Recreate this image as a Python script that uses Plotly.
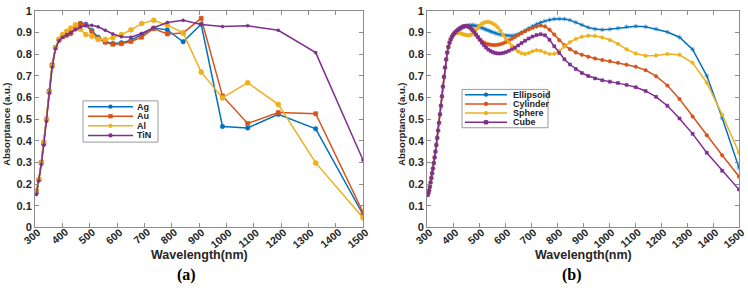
import math
import plotly.graph_objects as go

# ---------------- data ----------------
x_ticks = [300, 400, 500, 600, 700, 800, 900, 1000, 1100, 1200, 1300, 1400, 1500]
x_tick_labels = ["300", "400", "500", "600", "700", "800", "900", "1000", "1100", "1200", "1300", "1400", "1500"]
y_ticks = [0, 0.1, 0.2, 0.3, 0.4, 0.5, 0.6, 0.7, 0.8, 0.9, 1.0]
y_tick_labels = ["0", "0.1", "0.2", "0.3", "0.4", "0.5", "0.6", "0.7", "0.8", "0.9", "1"]

# panel (a): materials
names_a = ["Ag", "Au", "Al", "TiN"]
wl_a = [305, 314, 323, 332, 342, 352, 363, 375, 388, 401, 416, 431, 448, 466, 486, 508, 531, 557,
        585, 616, 651, 690, 734, 784, 842, 908, 986, 1078, 1190, 1327, 1500]
ag = [0.16, 0.22, 0.30, 0.385, 0.50, 0.63, 0.75, 0.83, 0.866, 0.882, 0.887, 0.895, 0.92, 0.941, 0.938,
      0.909, 0.878, 0.857, 0.849, 0.852, 0.864, 0.89, 0.92, 0.912, 0.857, 0.938, 0.466, 0.459, 0.522,
      0.455, 0.06]
au = [0.165, 0.22, 0.30, 0.39, 0.50, 0.625, 0.75, 0.83, 0.865, 0.88, 0.89, 0.90, 0.92, 0.94, 0.934,
      0.905, 0.872, 0.855, 0.845, 0.848, 0.858, 0.878, 0.918, 0.893, 0.898, 0.965, 0.607, 0.48, 0.53,
      0.525, 0.07]
al = [0.17, 0.22, 0.30, 0.395, 0.50, 0.625, 0.745, 0.83, 0.87, 0.89, 0.905, 0.92, 0.935, 0.915, 0.89,
      0.883, 0.868, 0.868, 0.876, 0.89, 0.912, 0.941, 0.956, 0.934, 0.898, 0.717, 0.598, 0.668, 0.568,
      0.298, 0.045]
tin = [0.152, 0.215, 0.29, 0.38, 0.49, 0.62, 0.74, 0.825, 0.862, 0.878, 0.89, 0.90, 0.912, 0.925, 0.932,
       0.933, 0.926, 0.91, 0.893, 0.88, 0.878, 0.895, 0.922, 0.946, 0.956, 0.937, 0.927, 0.931, 0.91,
       0.807, 0.311]

# panel (b): shapes
names_b = ["Ellipsoid", "Cylinder", "Sphere", "Cube"]
wl_b = [302.4, 305.2, 308.0, 310.9, 313.8, 316.8, 319.8, 322.9, 326.1, 329.3,
        332.6, 335.9, 339.4, 342.9, 346.4, 350.1, 353.8, 357.6, 361.4, 365.4,
        369.5, 373.6, 377.8, 382.2, 386.6, 391.1, 395.8, 400.5, 405.4, 410.4,
        415.5, 420.8, 426.1, 431.7, 437.3, 443.1, 449.1, 455.2, 461.5, 468.0,
        474.7, 481.5, 488.6, 495.9, 503.4, 511.1, 519.0, 527.2, 535.7, 544.5,
        553.5, 562.9, 572.5, 582.5, 592.9, 603.6, 614.8, 626.3, 638.3, 650.8,
        663.7, 677.2, 691.2, 705.9, 721.2, 737.1, 753.8, 771.2, 789.5, 808.6,
        828.7, 849.9, 872.1, 895.5, 920.2, 946.4, 974.0, 1003.3, 1034.5, 1067.6,
        1102.9, 1140.7, 1181.1, 1224.5, 1271.2, 1321.6, 1376.1, 1435.4, 1500.0]

ellipsoid = [0.150, 0.158, 0.170, 0.188, 0.207, 0.228, 0.250, 0.272, 0.297, 0.323,
             0.350, 0.380, 0.413, 0.447, 0.483, 0.522, 0.562, 0.605, 0.650, 0.695,
             0.738, 0.775, 0.807, 0.833, 0.853, 0.868, 0.880,
             0.889, 0.896, 0.902, 0.908, 0.913, 0.917, 0.921, 0.924, 0.927, 0.929,
             0.931, 0.932, 0.933, 0.933, 0.932, 0.930, 0.928, 0.925, 0.921, 0.917,
             0.913, 0.909, 0.905, 0.901, 0.897, 0.893, 0.890, 0.888, 0.886, 0.885,
             0.885, 0.887, 0.892, 0.900, 0.909, 0.919, 0.929, 0.938, 0.946, 0.953,
             0.958, 0.962, 0.963, 0.962, 0.957, 0.947, 0.935, 0.923, 0.916, 0.913,
             0.915, 0.920, 0.926, 0.929, 0.926, 0.916, 0.902, 0.878, 0.822, 0.700,
             0.505, 0.275]
cylinder = [0.150, 0.158, 0.170, 0.188, 0.207, 0.228, 0.250, 0.272, 0.297, 0.323,
            0.350, 0.380, 0.413, 0.447, 0.483, 0.522, 0.562, 0.605, 0.650, 0.695,
            0.738, 0.775, 0.807, 0.833, 0.853, 0.868, 0.880,
            0.889, 0.896, 0.902, 0.908, 0.913, 0.918, 0.922, 0.926, 0.929, 0.930,
            0.929, 0.925, 0.918, 0.909, 0.899, 0.888, 0.877, 0.867, 0.859, 0.853,
            0.848, 0.845, 0.843, 0.842, 0.842, 0.843, 0.846, 0.850, 0.856, 0.863,
            0.871, 0.879, 0.888, 0.897, 0.906, 0.914, 0.921, 0.928, 0.932, 0.928,
            0.913, 0.890, 0.864, 0.841, 0.823, 0.808, 0.797, 0.788, 0.780, 0.773,
            0.767, 0.760, 0.751, 0.742, 0.726, 0.698, 0.655, 0.593, 0.512, 0.425,
            0.333, 0.235]
sphere = [0.150, 0.158, 0.170, 0.188, 0.207, 0.228, 0.250, 0.272, 0.297, 0.323,
          0.350, 0.380, 0.413, 0.447, 0.483, 0.522, 0.562, 0.605, 0.650, 0.695,
          0.738, 0.775, 0.807, 0.833, 0.853, 0.868, 0.880,
          0.891, 0.895, 0.897, 0.898, 0.898, 0.897, 0.895, 0.892, 0.890, 0.888,
          0.887, 0.887, 0.889, 0.894, 0.902, 0.912, 0.922, 0.932, 0.940, 0.945,
          0.948, 0.948, 0.946, 0.941, 0.934, 0.923, 0.908, 0.889, 0.870, 0.854,
          0.839, 0.825, 0.812, 0.804, 0.801, 0.805, 0.813, 0.818, 0.815, 0.807,
          0.800, 0.802, 0.815, 0.835, 0.855, 0.870, 0.880, 0.885, 0.884, 0.877,
          0.865, 0.847, 0.822, 0.803, 0.792, 0.794, 0.800, 0.797, 0.760, 0.668,
          0.520, 0.345]
cube = [0.150, 0.158, 0.170, 0.188, 0.207, 0.228, 0.250, 0.272, 0.297, 0.323,
        0.350, 0.380, 0.413, 0.447, 0.483, 0.522, 0.562, 0.605, 0.650, 0.695,
        0.738, 0.775, 0.807, 0.833, 0.853, 0.868, 0.880,
        0.889, 0.896, 0.903, 0.909, 0.914, 0.919, 0.923, 0.927, 0.929, 0.930,
        0.929, 0.926, 0.920, 0.912, 0.902, 0.891, 0.879, 0.866, 0.853, 0.841,
        0.830, 0.821, 0.814, 0.809, 0.805, 0.803, 0.803, 0.805, 0.809, 0.815,
        0.822, 0.830, 0.840, 0.851, 0.862, 0.872, 0.881, 0.888, 0.892, 0.887,
        0.866, 0.836, 0.805, 0.776, 0.752, 0.731, 0.713, 0.699, 0.688, 0.679,
        0.673, 0.667, 0.658, 0.647, 0.630, 0.603, 0.562, 0.503, 0.432, 0.345,
        0.262, 0.175]

# ---------------- styles ----------------
BLUE, ORANGE, YELLOW, PURPLE = "#0072BD", "#D95319", "#EDB120", "#7E2F8E"
COLORS = [BLUE, ORANGE, YELLOW, PURPLE]
W, H = 748, 290
TXT = "#262626"
AXC = "#8c8c8c"
PLOT_TOP, PLOT_BOTTOM = 5, 231

fig = go.Figure()

def add(x, y, name, color, symbol, size, xa, ya):
    fig.add_trace(go.Scatter(
        x=x, y=y, name=name, mode="lines+markers", showlegend=False,
        line=dict(color=color, width=1.5),
        marker=dict(color=color, symbol=symbol, size=size, line=dict(width=0.6, color=color)),
        xaxis=xa, yaxis=ya))

for ys, nm, c, sym, sz in zip([ag, au, al, tin], names_a, COLORS,
                              ["circle", "square", "circle", "circle"], [4.5, 4, 5, 3]):
    add(wl_a, ys, nm, c, sym, sz, "x", "y")
for ys, nm, c, sym, sz in zip([ellipsoid, cylinder, sphere, cube], names_b, COLORS,
                              ["asterisk-open", "circle", "circle", "square"], [4, 3.5, 3.5, 3]):
    add(wl_b, ys, nm, c, sym, sz, "x2", "y2")

TICK_FS = 10.5
tickfont = dict(family="Arial", size=11, color=TXT, weight="bold")
xtickfont = dict(family="Arial", size=TICK_FS, color=TXT, weight="bold")

def xaxis(dom, anchor):
    return dict(domain=dom, anchor=anchor, range=[300, 1500], tickmode="array", tickvals=x_ticks,
                ticktext=x_tick_labels, showticklabels=False, ticks="inside", ticklen=4, tickcolor=AXC,
                showline=True, linecolor=AXC, linewidth=1, mirror="ticks", showgrid=False,
                zeroline=False)

def yaxis(anchor):
    return dict(domain=[1 - PLOT_BOTTOM / H, 1 - PLOT_TOP / H], range=[0, 1], anchor=anchor,
                tickmode="array", tickvals=y_ticks, ticktext=y_tick_labels, ticks="inside", ticklen=4,
                tickcolor=AXC, showline=True, linecolor=AXC, linewidth=1, mirror="ticks",
                showgrid=False, zeroline=False, tickfont=tickfont, ticklabeloverflow="allow")

fig.update_layout(
    width=W, height=H, margin=dict(l=0, r=0, t=0, b=0),
    paper_bgcolor="white", plot_bgcolor="white", showlegend=False,
    xaxis=xaxis([35 / W, 363 / W], "y"),
    yaxis=yaxis("x"),
    xaxis2=xaxis([427 / W, 739 / W], "y2"),
    yaxis2=yaxis("x2"),
)

def px(x, y):
    return x / W, 1 - y / H

# rotated x tick labels, each placed on its axis's own data scale; the label is
# centred so that its right end sits just below-right of the tick
ANG = 40
ca, sa = math.cos(math.radians(ANG)), math.sin(math.radians(ANG))
for xref in ["x", "x2"]:
    for val, lab in zip(x_ticks, x_tick_labels):
        w = 0.556 * TICK_FS * len(lab)
        dx = 4 - 0.5 * w * ca
        dy = 3 + 0.5 * w * sa
        fig.add_annotation(x=val, xref=xref, y=1 - PLOT_BOTTOM / H, yref="paper", text=lab,
                           textangle=-ANG, xanchor="center", yanchor="middle",
                           xshift=dx, yshift=-dy, showarrow=False, font=xtickfont, borderpad=0)

annots = [
    dict(text="Wavelength(nm)", pos=(199, 260), font=dict(family="Arial", size=12.5, color=TXT, weight="bold")),
    dict(text="Wavelength(nm)", pos=(583, 260), font=dict(family="Arial", size=12.5, color=TXT, weight="bold")),
    dict(text="(a)", pos=(186, 281), font=dict(family="Liberation Serif", size=16, color="black", weight="bold")),
    dict(text="(b)", pos=(572, 281), font=dict(family="Liberation Serif", size=16, color="black", weight="bold")),
    dict(text="Absorptance (a.u.)", pos=(7, 124), textangle=-90,
         font=dict(family="Arial", size=9.5, color=TXT, weight="bold")),
    dict(text="Absorptance (a.u.)", pos=(402, 124), textangle=-90,
         font=dict(family="Arial", size=9.5, color=TXT, weight="bold")),
]
for a in annots:
    x, y = px(*a.pop("pos"))
    fig.add_annotation(xref="paper", yref="paper", x=x, y=y, showarrow=False,
                       xanchor="center", yanchor="middle", **a)

# compact MATLAB-style legends (box, line samples, markers, labels)
def legend(names, box, y_first, dy, line_x0, line_x1, text_x, symbols):
    bx0, by0, bx1, by1 = box
    x0, y0 = px(bx0, by0)
    x1, y1 = px(bx1, by1)
    fig.add_shape(type="rect", xref="paper", yref="paper", x0=x0, y0=y0, x1=x1, y1=y1,
                  fillcolor="white", line=dict(color="#9a9a9a", width=1), layer="above")
    for i, (nm, c) in enumerate(zip(names, COLORS)):
        yy = y_first + i * dy
        lx0, ly = px(line_x0, yy)
        lx1, _ = px(line_x1, yy)
        fig.add_shape(type="line", xref="paper", yref="paper", x0=lx0, x1=lx1, y0=ly, y1=ly,
                      line=dict(color=c, width=1.5), layer="above")
        mx = (line_x0 + line_x1) / 2
        r = 2.2
        shape_type = "rect" if symbols[i] == "square" else "circle"
        fig.add_shape(type=shape_type, xref="paper", yref="paper",
                      x0=px(mx - r, 0)[0], x1=px(mx + r, 0)[0], y0=px(0, yy - r)[1], y1=px(0, yy + r)[1],
                      fillcolor=c, line=dict(color=c, width=0), layer="above")
        tx, ty = px(text_x, yy)
        fig.add_annotation(xref="paper", yref="paper", x=tx, y=ty, text=nm, showarrow=False,
                           xanchor="left", yanchor="middle", borderpad=0,
                           font=dict(family="Arial", size=9, color=TXT, weight="bold"))

legend(names_a, (83, 99, 158, 142), 105, 10, 88, 133, 136, ["circle", "square", "circle", "circle"])
legend(names_b, (462, 87, 548, 127), 92.5, 9.6, 465, 507, 512, ["circle", "circle", "circle", "square"])

fig.write_html("out.html")
